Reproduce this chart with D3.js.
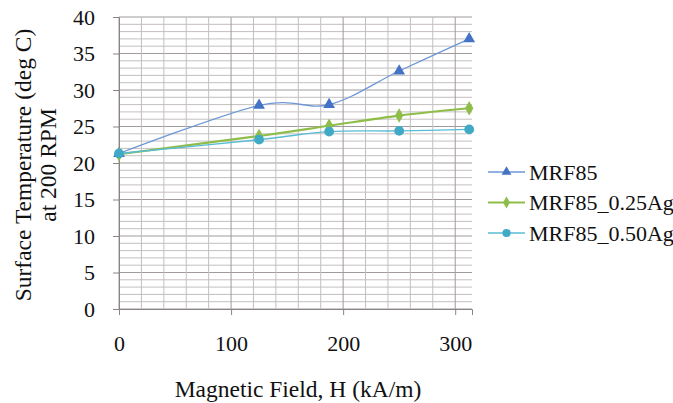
<!DOCTYPE html>
<html>
<head>
<meta charset="utf-8">
<script src="https://cdn.jsdelivr.net/npm/d3@7"></script>
<style>
  body { margin: 0; background: #fff; }
</style>
</head>
<body>
<div id="svg-container" style="width:673px;height:403px"></div>
<script>
// data
const field = [0, 125, 187.5, 250, 312.5];
const mrf85 = [21.3, 27.9, 28.0, 32.6, 37.0];
const mrf85_025 = [21.2, 23.7, 25.1, 26.5, 27.5];
const mrf85_050 = [21.3, 23.2, 24.3, 24.4, 24.6];
const seriesNames = ["MRF85", "MRF85_0.25Ag", "MRF85_0.50Ag"];
const xTicks = [0, 100, 200, 300];
const yTicks = [0, 5, 10, 15, 20, 25, 30, 35, 40];

const width = 673, height = 403;
const margin = { top: 17, right: 201, bottom: 94, left: 119 };
const tickFont = "22px";
const titleFont = "23.5px";
const fontFamily = "Liberation Serif";

const svg = d3.select("#svg-container").append("svg")
  .attr("width", width).attr("height", height)
  .style("font-family", fontFamily);

const xScale = d3.scaleLinear().domain([0, 315]).range([margin.left, width - margin.right]);
const yScale = d3.scaleLinear().domain([0, 40]).range([height - margin.bottom, margin.top]);

// grid
const grid = svg.append("g");
grid.selectAll(".hminor").data(d3.range(0, 41, 1)).enter().append("line")
  .attr("x1", margin.left).attr("x2", width - margin.right)
  .attr("y1", d => yScale(d)).attr("y2", d => yScale(d))
  .attr("stroke", d => d % 5 === 0 ? "#a09a9a" : "#c4bfbf")
  .attr("stroke-width", 1);
grid.selectAll(".vminor").data(d3.range(0, 315, 20)).enter().append("line")
  .attr("x1", d => xScale(d)).attr("x2", d => xScale(d))
  .attr("y1", margin.top).attr("y2", height - margin.bottom)
  .attr("stroke", d => d % 100 === 0 ? "#a09a9a" : "#c4bfbf")
  .attr("stroke-width", 1);

// axes
const xAxis = d3.axisBottom(xScale).tickValues(xTicks).tickSize(6).tickPadding(20);
const yAxis = d3.axisLeft(yScale).tickValues(yTicks).tickSize(6).tickPadding(18);

const gx = svg.append("g")
  .attr("transform", `translate(0,${height - margin.bottom})`)
  .call(xAxis);
const gy = svg.append("g")
  .attr("transform", `translate(${margin.left},0)`)
  .call(yAxis);
[gx, gy].forEach(g => {
  g.attr("font-family", fontFamily).attr("font-size", tickFont);
  g.select(".domain").attr("stroke", "#8a8585");
  g.selectAll(".tick line").attr("stroke", "#8a8585");
  g.selectAll(".tick text")
    .style("font-family", fontFamily)
    .style("font-size", tickFont)
    .attr("fill", "#111");
});

// axis titles
svg.append("text")
  .attr("x", 298).attr("y", 397)
  .attr("text-anchor", "middle")
  .style("font-family", fontFamily).style("font-size", titleFont)
  .attr("fill", "#111")
  .text("Magnetic Field, H (kA/m)");
const yTitle = svg.append("text")
  .attr("transform", "translate(0,165) rotate(-90)")
  .attr("text-anchor", "middle")
  .style("font-family", fontFamily).style("font-size", titleFont)
  .attr("fill", "#111");
yTitle.append("tspan").attr("x", 0).attr("y", 31).text("Surface Temperature (deg C)");
yTitle.append("tspan").attr("x", 0).attr("y", 56).text("at 200 RPM");

// series
const series = [
  { name: seriesNames[0], values: mrf85, line: "#6d97d6", marker: "#4472c4", width: 1.3, shape: d3.symbolTriangle, size: 60 },
  { name: seriesNames[1], values: mrf85_025, line: "#8fbd4a", marker: "#8fbd4a", width: 2.2, shape: d3.symbolDiamond, size: 60 },
  { name: seriesNames[2], values: mrf85_050, line: "#58bcd6", marker: "#3fa9c6", width: 1.4, shape: d3.symbolCircle, size: 75 }
];

const line = d3.line()
  .x(d => xScale(d[0]))
  .y(d => yScale(d[1]))
  .curve(d3.curveCardinal.tension(0));

series.forEach(s => {
  const pts = field.map((f, i) => [f, s.values[i]]);
  svg.append("path")
    .datum(pts)
    .attr("d", line)
    .attr("fill", "none")
    .attr("stroke", s.line)
    .attr("stroke-width", s.width);
  svg.selectAll(null).data(pts).enter().append("path")
    .attr("d", d3.symbol().type(s.shape).size(s.size))
    .attr("transform", d => `translate(${xScale(d[0])},${yScale(d[1])})`)
    .attr("fill", s.marker);
});

// legend
const legend = svg.append("g").attr("transform", "translate(488,172)");
series.forEach((s, i) => {
  const g = legend.append("g").attr("transform", `translate(0,${i * 30.5})`);
  g.append("line").attr("x1", 0).attr("x2", 37).attr("y1", 0).attr("y2", 0)
    .attr("stroke", s.line).attr("stroke-width", s.width);
  g.append("path").attr("d", d3.symbol().type(s.shape).size(s.size * 0.7))
    .attr("transform", "translate(18.5,0)").attr("fill", s.marker);
  g.append("text").attr("x", 41).attr("y", 0).attr("dy", "0.35em")
    .style("font-family", fontFamily).style("font-size", tickFont)
    .attr("fill", "#111")
    .text(s.name);
});
</script>
</body>
</html>
